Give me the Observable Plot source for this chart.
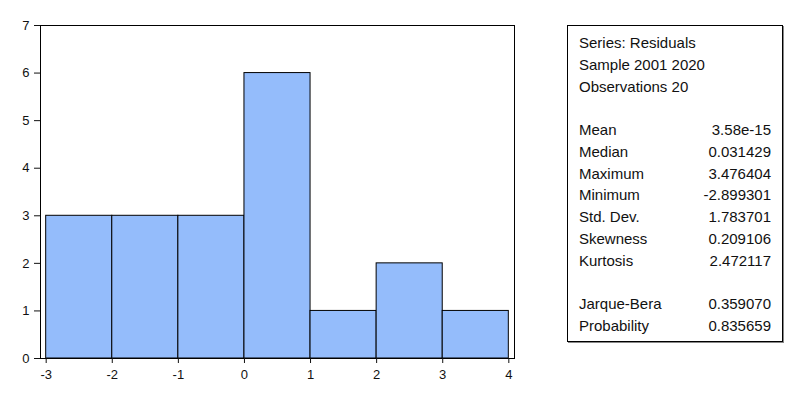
<!DOCTYPE html>
<html>
<head>
<meta charset="utf-8">
<script src="https://cdn.jsdelivr.net/npm/d3@7"></script>
<script src="https://cdn.jsdelivr.net/npm/@observablehq/plot@0.6"></script>
<style>
  html, body { margin: 0; padding: 0; background: #fff; }
  #wrap { position: relative; width: 792px; height: 393px; overflow: hidden; font-family: "Liberation Sans", Arial, sans-serif; }
  #chart svg text { font-size: 13px !important; font-family: "Liberation Sans", Arial, sans-serif !important; fill: #111; }
  #stats { position: absolute; left: 567px; top: 25px; width: 216px; height: 317px; box-sizing: border-box;
           border: 1px solid #000; box-shadow: 1px 1px 0 #888; background: #fff;
           padding: 6px 11px 0 11px; font-size: 15px; color: #111; }
  #stats .row { height: 21.75px; line-height: 21.75px; display: flex; justify-content: space-between; white-space: nowrap; }
</style>
</head>
<body>
<div id="wrap">
  <div id="chart"></div>
  <div id="stats"></div>
</div>
<script>
// Histogram bins
const binStart = [-3, -2, -1, 0, 1, 2, 3];
const binEnd   = [-2, -1, 0, 1, 2, 3, 4];
const counts   = [3, 3, 3, 6, 1, 2, 1];
const xTicks = [-3, -2, -1, 0, 1, 2, 3, 4];
const yTicks = [0, 1, 2, 3, 4, 5, 6, 7];

// Statistics box
const headerLines = ["Series: Residuals", "Sample 2001 2020", "Observations 20"];
const statLabels = ["Mean", "Median", "Maximum", "Minimum", "Std. Dev.", "Skewness", "Kurtosis"];
const statValues = ["3.58e-15", "0.031429", "3.476404", "-2.899301", "1.783701", "0.209106", "2.472117"];
const testLabels = ["Jarque-Bera", "Probability"];
const testValues = ["0.359070", "0.835659"];

const bins = binStart.map((s, i) => ({x1: s, x2: binEnd[i], count: counts[i]}));

const chart = Plot.plot({
  width: 792,
  height: 393,
  marginLeft: 40,
  marginTop: 25,
  marginBottom: 35,
  marginRight: 278,
  style: {fontFamily: "'Liberation Sans', Arial, sans-serif", fontSize: "13px", color: "#111", background: "transparent"},
  x: {domain: [-3.086, 4.086]},
  y: {domain: [0, 7]},
  marks: [
    Plot.rectY(bins, {x1: "x1", x2: "x2", y: "count", fill: "#94bcfb", stroke: "#000", strokeWidth: 1, inset: 0}),
    Plot.frame({stroke: "#000", strokeWidth: 1}),
    Plot.axisY({ticks: yTicks, tickSize: 6, tickPadding: 5, fontSize: 13, label: null, tickFormat: d => String(d)}),
    Plot.axisX({ticks: xTicks, tickSize: 5, tickPadding: 6, fontSize: 13, label: null, tickFormat: d => String(d)})
  ]
});
document.getElementById("chart").appendChild(chart);

const box = document.getElementById("stats");
function addRow(a, b) {
  const r = document.createElement("div");
  r.className = "row";
  const s1 = document.createElement("span"); s1.textContent = a;
  const s2 = document.createElement("span"); s2.textContent = b;
  r.appendChild(s1); r.appendChild(s2);
  box.appendChild(r);
}
headerLines.forEach(h => addRow(h, ""));
addRow("", "");
statLabels.forEach((l, i) => addRow(l, statValues[i]));
addRow("", "");
testLabels.forEach((l, i) => addRow(l, testValues[i]));
</script>
</body>
</html>
